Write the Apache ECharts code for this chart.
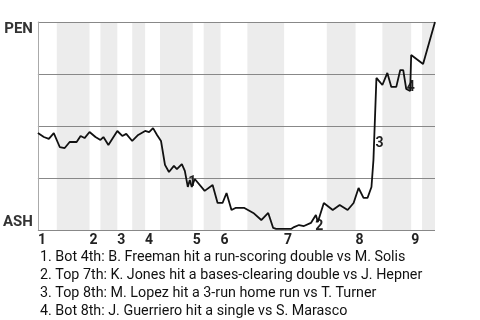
<!DOCTYPE html>
<html><head><meta charset="utf-8">
<script src="https://cdn.jsdelivr.net/npm/echarts@6/dist/echarts.min.js"></script>
<style>html,body{margin:0;padding:0;background:#fff}#c{width:480px;height:320px}</style>
</head><body><div id="c"></div>
<script>
// play position (x, in plays) and PEN win probability after each play
const playX = [0,1.5,2.75,4,5.5,6.75,8,9.75,10.75,11.75,13,14.5,15.75,16.5,17.75,20,21.25,22.25,23.75,25.25,27,28,29,30,31,32,33,34.25,35,36.25,37,37.75,38.25,38.75,39.5,42,44,45.25,46.5,47.5,48.75,49.75,52,54.25,56.25,58,59.25,60,63.75,64.5,65.75,67,68.75,70,70.5,72,74.25,76,78,79.5,80.75,82,83,84,84.5,85.25,86.75,88,89,90.25,91.25,92,92.75,93.75,94,97,100];
const winProb = [0.466,0.447,0.438,0.466,0.399,0.394,0.423,0.423,0.452,0.442,0.471,0.447,0.433,0.447,0.409,0.476,0.452,0.462,0.428,0.457,0.476,0.471,0.490,0.457,0.428,0.313,0.279,0.308,0.293,0.317,0.284,0.207,0.240,0.207,0.245,0.188,0.216,0.130,0.130,0.178,0.096,0.106,0.106,0.082,0.048,0.082,0.010,0.005,0.005,0.014,0.024,0.019,0.034,0.072,0.038,0.130,0.096,0.120,0.096,0.130,0.202,0.154,0.154,0.207,0.337,0.731,0.697,0.755,0.688,0.688,0.769,0.769,0.678,0.668,0.841,0.798,1.0];
// half-inning boundaries (in plays): top1, bot1, top2, ...
const halfInningBounds = [0,4.75,13,15.75,20,23.75,27,30.75,39,41.75,46,52.75,62,72.75,80,86.75,94,96.75,100];
const inningStarts = [0,13,20,27,39,46,62,80,94];
const inningLabels = ['1','2','3','4','5','6','7','8','9'];
const teamTop = 'PEN';
const teamBottom = 'ASH';
const eventPlayIdx = [32,54,64,73];
const eventLabels = ['1','2','3','4'];
const eventNotes = [
  '1. Bot 4th: B. Freeman hit a run-scoring double vs M. Solis',
  '2. Top 7th: K. Jones hit a bases-clearing double vs J. Hepner',
  '3. Top 8th: M. Lopez hit a 3-run home run vs T. Turner',
  '4. Bot 8th: J. Guerriero hit a single vs S. Marasco'
];
const eventOffsets = [[2.5,2],[1.5,4],[6,-16],[0.5,-3.5]];

const FONT = 'Roboto, "Liberation Sans", sans-serif';
const lineData = playX.map((x,i)=>[x, winProb[i]]);
const shade = [];
for (let k = 1; k + 1 < halfInningBounds.length; k += 2) {
  shade.push([{xAxis: halfInningBounds[k]}, {xAxis: halfInningBounds[k+1]}]);
}
const chart = echarts.init(document.getElementById('c'), null, {renderer:'canvas'});
chart.setOption({
  animation: false,
  title: {
    text: eventNotes.join('\n'),
    left: 35, top: 243,
    textStyle: {fontFamily: FONT, fontSize: 14.3, fontWeight: 'normal', color: '#111', lineHeight: 18}
  },
  grid: {left: 35, right: 45, top: 22, bottom: 90, containLabel: false},
  xAxis: {
    type: 'value', min: 0, max: 100,
    axisLine: {show: false}, axisTick: {show: false}, splitLine: {show: false},
    axisLabel: {
      customValues: inningStarts, hideOverlap: false,
      formatter: v => inningLabels[inningStarts.indexOf(v)] || '',
      align: 'left', margin: 3,
      fontFamily: FONT, fontSize: 14, fontWeight: 'bold', color: '#222'
    }
  },
  yAxis: {
    type: 'value', min: 0, max: 1, interval: 0.25, z: 3,
    axisLine: {show: true, lineStyle: {color: '#aaa', width: 1}},
    axisTick: {show: false},
    splitLine: {show: true, lineStyle: {color: '#888', width: 1}},
    axisLabel: {
      customValues: [0, 1], margin: 5,
      formatter: v => v === 1 ? '{t|' + teamTop + '}' : '{b|' + teamBottom + '}',
      rich: {
        t: {fontFamily: FONT, fontSize: 15, fontWeight: 'bold', color: '#333', padding: [14,0,0,0]},
        b: {fontFamily: FONT, fontSize: 15, fontWeight: 'bold', color: '#333', padding: [0,0,16,0]}
      }
    }
  },
  series: [{
    type: 'line', data: [], z: 1, silent: true,
    markArea: {silent: true, itemStyle: {color: '#ececec'}, data: shade}
  }, {
    type: 'line', data: lineData, showSymbol: false, symbol: 'none',
    lineStyle: {color: '#111', width: 1.8}, z: 5,
    markPoint: {
      symbol: 'circle', symbolSize: 1, itemStyle: {color: 'rgba(0,0,0,0)'},
      data: eventPlayIdx.map((idx,i)=>({name: eventLabels[i], coord: [playX[idx], winProb[idx]],
        label: {offset: eventOffsets[i]}})),
      label: {show: true, position: 'inside', formatter: '{b}', fontFamily: FONT, fontSize: 14, fontWeight: 'bold', color: '#222'}
    }
  }]
});
</script></body></html>
